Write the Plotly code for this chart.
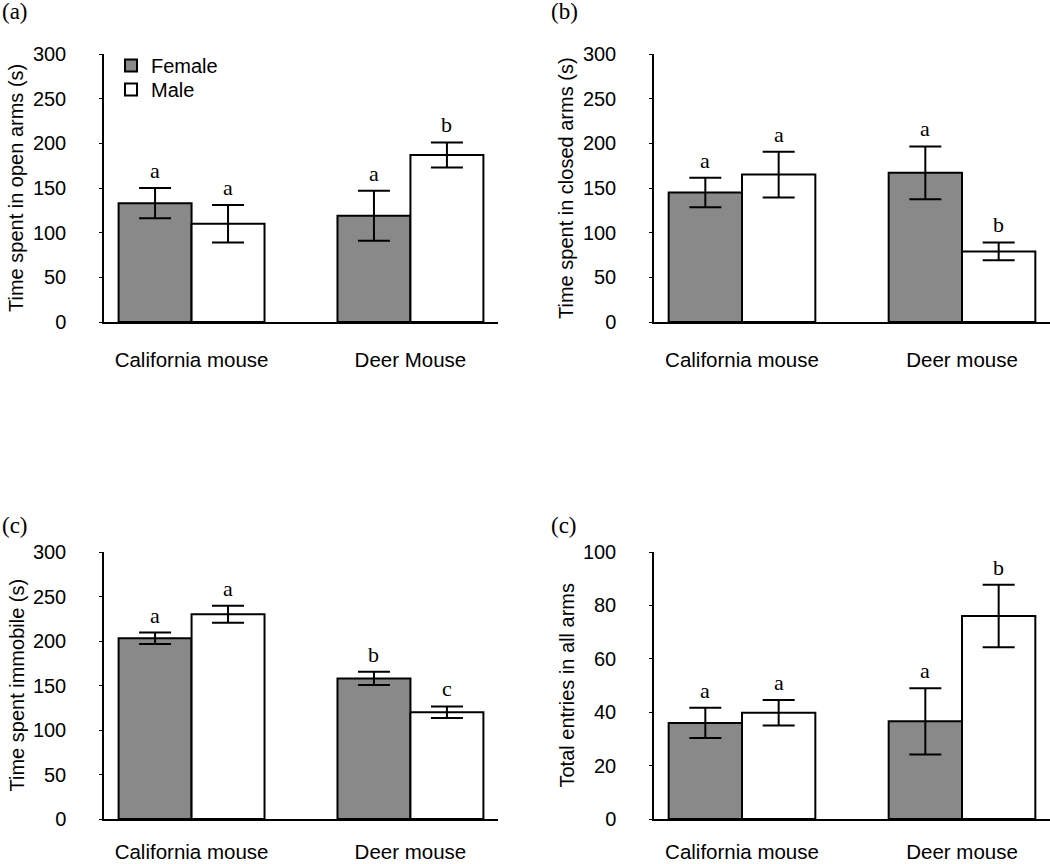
import plotly.graph_objects as go
from plotly.subplots import make_subplots

SANS = "Arial, Liberation Sans, sans-serif"
SERIF = "Times New Roman, Liberation Serif, serif"

# category labels
species_open = ["California mouse", "Deer Mouse"]
species = ["California mouse", "Deer mouse"]

# (a) time in open arms (s)
open_f = [133, 119]
open_f_err = [17, 28]
open_m = [110, 187]
open_m_err = [21, 14]
open_f_letters = ["a", "a"]
open_m_letters = ["a", "b"]

# (b) time in closed arms (s)
closed_f = [145, 167]
closed_f_err = [16.5, 29.5]
closed_m = [165, 79]
closed_m_err = [25.5, 10]
closed_f_letters = ["a", "a"]
closed_m_letters = ["a", "b"]

# (c) time immobile (s)
immob_f = [203, 158]
immob_f_err = [6.5, 7.5]
immob_m = [230, 120]
immob_m_err = [9.5, 6.5]
immob_f_letters = ["a", "b"]
immob_m_letters = ["a", "c"]

# (c) total entries in all arms
entries_f = [36, 36.6]
entries_f_err = [5.7, 12.4]
entries_m = [39.8, 76]
entries_m_err = [4.8, 11.7]
entries_f_letters = ["a", "a"]
entries_m_letters = ["a", "b"]

panels = [
    dict(row=1, col=1, cats=species_open, f=open_f, fe=open_f_err, m=open_m, me=open_m_err,
         fl=open_f_letters, ml=open_m_letters, ymax=300, dtick=50,
         title="Time spent in open arms (s)", label="(a)"),
    dict(row=1, col=2, cats=species, f=closed_f, fe=closed_f_err, m=closed_m, me=closed_m_err,
         fl=closed_f_letters, ml=closed_m_letters, ymax=300, dtick=50,
         title="Time spent in closed arms (s)", label="(b)"),
    dict(row=2, col=1, cats=species, f=immob_f, fe=immob_f_err, m=immob_m, me=immob_m_err,
         fl=immob_f_letters, ml=immob_m_letters, ymax=300, dtick=50,
         title="Time spent immobile (s)", label="(c)"),
    dict(row=2, col=2, cats=species, f=entries_f, fe=entries_f_err, m=entries_m, me=entries_m_err,
         fl=entries_f_letters, ml=entries_m_letters, ymax=100, dtick=20,
         title="Total entries in all arms", label="(c)"),
]

W, H = 1050, 864
# pixel boxes of the plot areas (left, right, top, bottom)
boxes = {
    (1, 1): (104, 498, 54, 322),
    (1, 2): (654, 1050, 54, 322),
    (2, 1): (104, 498, 552, 819),
    (2, 2): (654, 1050, 552, 819),
}

BARGAP = 1 / 3
half = (1 - BARGAP) / 4  # offset of each bar centre from the category

fig = make_subplots(rows=2, cols=2)

for i, p in enumerate(panels):
    first = i == 0
    fig.add_trace(go.Bar(
        x=p["cats"], y=p["f"], name="Female", showlegend=first, legend="legend",
        marker=dict(color="#898989", line=dict(color="black", width=2)),
        error_y=dict(type="data", array=p["fe"], color="black", thickness=2, width=16),
    ), row=p["row"], col=p["col"])
    fig.add_trace(go.Bar(
        x=p["cats"], y=p["m"], name="Male", showlegend=first, legend="legend2",
        marker=dict(color="white", line=dict(color="black", width=2)),
        error_y=dict(type="data", array=p["me"], color="black", thickness=2, width=16),
    ), row=p["row"], col=p["col"])

    l, r, t, b = boxes[(p["row"], p["col"])]
    fig.update_xaxes(
        domain=[l / W, r / W], range=[-0.4, 1.4], showline=True, linecolor="black",
        linewidth=1.5, ticks="", showgrid=False, zeroline=False, automargin=False,
        tickfont=dict(family=SANS, size=20.5, color="black"),
        ticklabelstandoff=19 if p["row"] == 1 else 14,
        row=p["row"], col=p["col"])
    fig.update_yaxes(
        domain=[1 - b / H, 1 - t / H], range=[0, p["ymax"]], dtick=p["dtick"],
        showline=True, linecolor="black", linewidth=1.5, ticks="outside", ticklen=3,
        tickcolor="black", showgrid=False, zeroline=False, automargin=False,
        tickfont=dict(family=SANS, size=20, color="black"), ticklabelstandoff=29,
        row=p["row"], col=p["col"])

    xref = "x" if i == 0 else f"x{i + 1}"
    yref = "y" if i == 0 else f"y{i + 1}"
    for k in range(2):
        for letters, vals, errs, off in ((p["fl"], p["f"], p["fe"], -half),
                                         (p["ml"], p["m"], p["me"], half)):
            fig.add_annotation(
                x=k + off, y=vals[k] + errs[k], xref=xref, yref=yref,
                text=letters[k], showarrow=False, yanchor="bottom", yshift=3,
                font=dict(family=SERIF, size=22, color="black"))

    # y axis title
    fig.add_annotation(
        x=(l - 88) / W, y=1 - (t + b) / 2 / H, xref="paper", yref="paper",
        text=p["title"], textangle=-90, showarrow=False,
        xanchor="center", yanchor="middle",
        font=dict(family=SANS, size=20, color="black"))
    # panel label
    fig.add_annotation(
        x=(l - 104 + (0 if p["col"] == 1 else -1)) / W,
        y=1 - (t - 42 if p["row"] == 1 else t - 27) / H,
        xref="paper", yref="paper", text=p["label"], showarrow=False,
        xanchor="left", yanchor="middle",
        font=dict(family=SERIF, size=23, color="black"))

legend_style = dict(xanchor="left", yanchor="top", bgcolor="rgba(0,0,0,0)",
                    font=dict(family=SANS, size=20, color="black"), itemwidth=30)

fig.update_layout(
    width=W, height=H,
    margin=dict(l=0, r=0, t=0, b=0, autoexpand=False),
    barmode="group", bargap=BARGAP, bargroupgap=0,
    plot_bgcolor="white", paper_bgcolor="white",
    legend=dict(x=111 / W, y=1 - 46 / H, **legend_style),
    legend2=dict(x=111 / W, y=1 - 70 / H, **legend_style),
)

# the page body has an 8px default margin; drop it so the figure sits at 0,0
fig.write_html("out.html", config={"displayModeBar": False},
               post_script="document.body.style.margin = '0';")
